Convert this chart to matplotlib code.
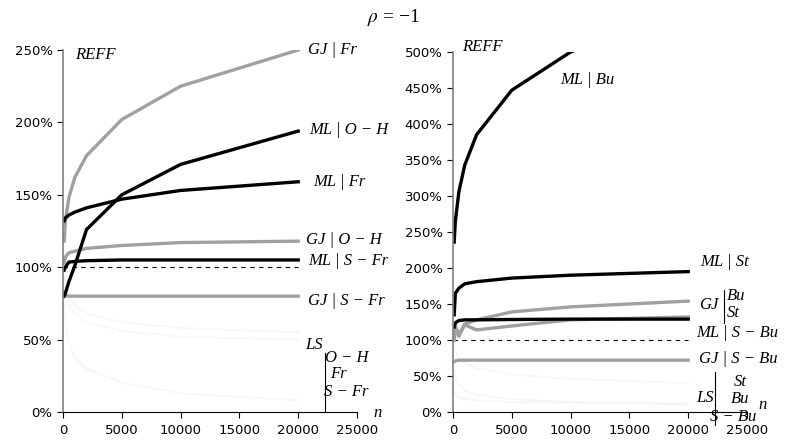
import numpy as np
import matplotlib.pyplot as plt

plt.rcParams['mathtext.fontset'] = 'stix'

# sample sizes
n = [100, 200, 500, 1000, 2000, 5000, 10000, 20000]

# rho = -1, left panel (Fr / O-H / S-Fr), REFF in %
gj_fr = [118, 132, 148, 162, 177, 202, 225, 250]
ml_oh = [80, 82, 90, 101, 126, 150, 171, 194]
ml_fr = [132, 134, 136, 138, 141, 147, 153, 159]
gj_oh = [103, 107, 110, 111, 113, 115, 117, 118]
ml_sfr = [98, 100, 103.5, 104, 104.5, 105, 105, 105]
gj_sfr = [82, 80.5, 80, 80, 80, 80, 80, 80]
ls_oh = [95, 85, 75, 68, 62, 56, 52, 50]
ls_fr = [75, 62, 48, 38, 30, 20, 13, 8]
ls_sfr = [90, 86, 80, 74, 68, 62, 58, 55]

# right panel (Bu / St / S-Bu)
ml_bu = [236, 265, 306, 343, 385, 447, 500, 570]
ml_st = [135, 165, 172, 178, 181, 186, 190, 195]
gj_bu = [100, 118, 105, 122, 128, 139, 146, 154]
gj_st = [100, 120, 108, 121, 114, 119.5, 128, 132]
ml_sbu = [118, 124, 127, 128, 128, 128.5, 129, 129]
gj_sbu = [70, 71, 72, 72, 72, 72, 72, 72]
ls_st = [96, 85, 75, 68, 61, 52, 46, 40]
ls_bu = [60, 48, 38, 30, 24, 18, 14, 10]
ls_sbu = [30, 24, 20, 18, 16, 14, 13, 12]

black = 'black'
gray = '#a0a0a0'
faint = '#f6f6f6'
serif = 'Liberation Serif'
sans = 'DejaVu Sans'

fig = plt.figure(figsize=(7.88, 4.42), dpi=100)
ax1 = fig.add_axes([63/788, 1-412/442, 294/788, 362/442])
ax2 = fig.add_axes([453/788, 1-412/442, 294/788, 360/442])


def style(ax, ymax, ystep):
    ax.set_xlim(0, 25000)
    ax.set_ylim(0, ymax)
    ax.set_xticks(np.arange(0, 25001, 5000))
    ax.set_yticks(np.arange(0, ymax + 1, ystep))
    ax.set_yticklabels([f'{int(v)}%' for v in np.arange(0, ymax + 1, ystep)])
    for s in ['top', 'right']:
        ax.spines[s].set_visible(False)
    ax.spines['left'].set_color('#808080')
    ax.spines['left'].set_linewidth(1.2)
    ax.spines['bottom'].set_color('black')
    ax.tick_params(axis='y', colors='black', length=4, labelsize=9.5, direction='out')
    ax.tick_params(axis='x', length=4, labelsize=9.5, direction='out', pad=5)
    for t in ax.get_xticklabels() + ax.get_yticklabels():
        t.set_family(sans)
    ax.plot([0, 20000], [100, 100], color='black', lw=0.8, ls=(0, (4, 4)))


def lab(ax, x, y, s, ha='left', size=12):
    ax.text(x, y, s, ha=ha, va='center', fontsize=size, family=serif,
            style='italic', clip_on=False)


style(ax1, 250, 50)
lw = 2.4
for ys in [ls_oh, ls_fr, ls_sfr]:
    ax1.plot(n, ys, color=faint, lw=1.2)
ax1.plot(n, gj_fr, color=gray, lw=lw)
ax1.plot(n, gj_oh, color=gray, lw=lw)
ax1.plot(n, gj_sfr, color=gray, lw=lw)
ax1.plot(n, ml_oh, color=black, lw=lw)
ax1.plot(n, ml_fr, color=black, lw=lw)
ax1.plot(n, ml_sfr, color=black, lw=lw)

lab(ax1, 1020, 246.5, 'REFF')
lab(ax1, 20833, 250, 'GJ | Fr')
lab(ax1, 20918, 195, 'ML | O − H')
lab(ax1, 21260, 159, 'ML | Fr')
lab(ax1, 20663, 119, 'GJ | O − H')
lab(ax1, 20833, 104, 'ML | S − Fr')
lab(ax1, 20833, 77, 'GJ | S − Fr')
lab(ax1, 20578, 46, 'LS')
ax1.plot([22279, 22279], [41, 0], color='black', lw=0.8, clip_on=False)
lab(ax1, 24150, 37, 'O − H', ha='center')
lab(ax1, 23384, 26, 'Fr', ha='center')
lab(ax1, 24050, 14, 'S − Fr', ha='center')
lab(ax1, 26360, -1, 'n')

style(ax2, 500, 50)
for ys in [ls_st, ls_bu, ls_sbu]:
    ax2.plot(n, ys, color=faint, lw=1.2)
ax2.plot(n, gj_bu, color=gray, lw=lw)
ax2.plot(n, gj_st, color=gray, lw=lw)
ax2.plot(n, gj_sbu, color=gray, lw=lw)
ax2.plot(n, ml_bu, color=black, lw=lw)
ax2.plot(n, ml_st, color=black, lw=lw)
ax2.plot(n, ml_sbu, color=black, lw=lw)

lab(ax2, 765, 507, 'REFF')
lab(ax2, 9098, 461, 'ML | Bu')
lab(ax2, 21003, 209, 'ML | St')
lab(ax2, 20900, 149, 'GJ')
ax2.plot([23044, 23044], [169, 124], color='black', lw=0.8, clip_on=False)
lab(ax2, 23300, 161, 'Bu')
lab(ax2, 23300, 138, 'St')
lab(ax2, 20663, 110, 'ML | S − Bu')
lab(ax2, 20918, 74, 'GJ | S − Bu')
lab(ax2, 20663, 19.5, 'LS')
ax2.plot([22279, 22279], [56, -18], color='black', lw=0.8, clip_on=False)
lab(ax2, 24404, 42, 'St', ha='center')
lab(ax2, 24404, 18, 'Bu', ha='center')
lab(ax2, 23810, -7, 'S − Bu', ha='center')
lab(ax2, 25935, 10, 'n')

fig.text(0.5, 1 - 18/442, r'$\rho$ = −1', ha='center', va='center', fontsize=14,
         family=serif)

fig.savefig('out.png', dpi=100)
